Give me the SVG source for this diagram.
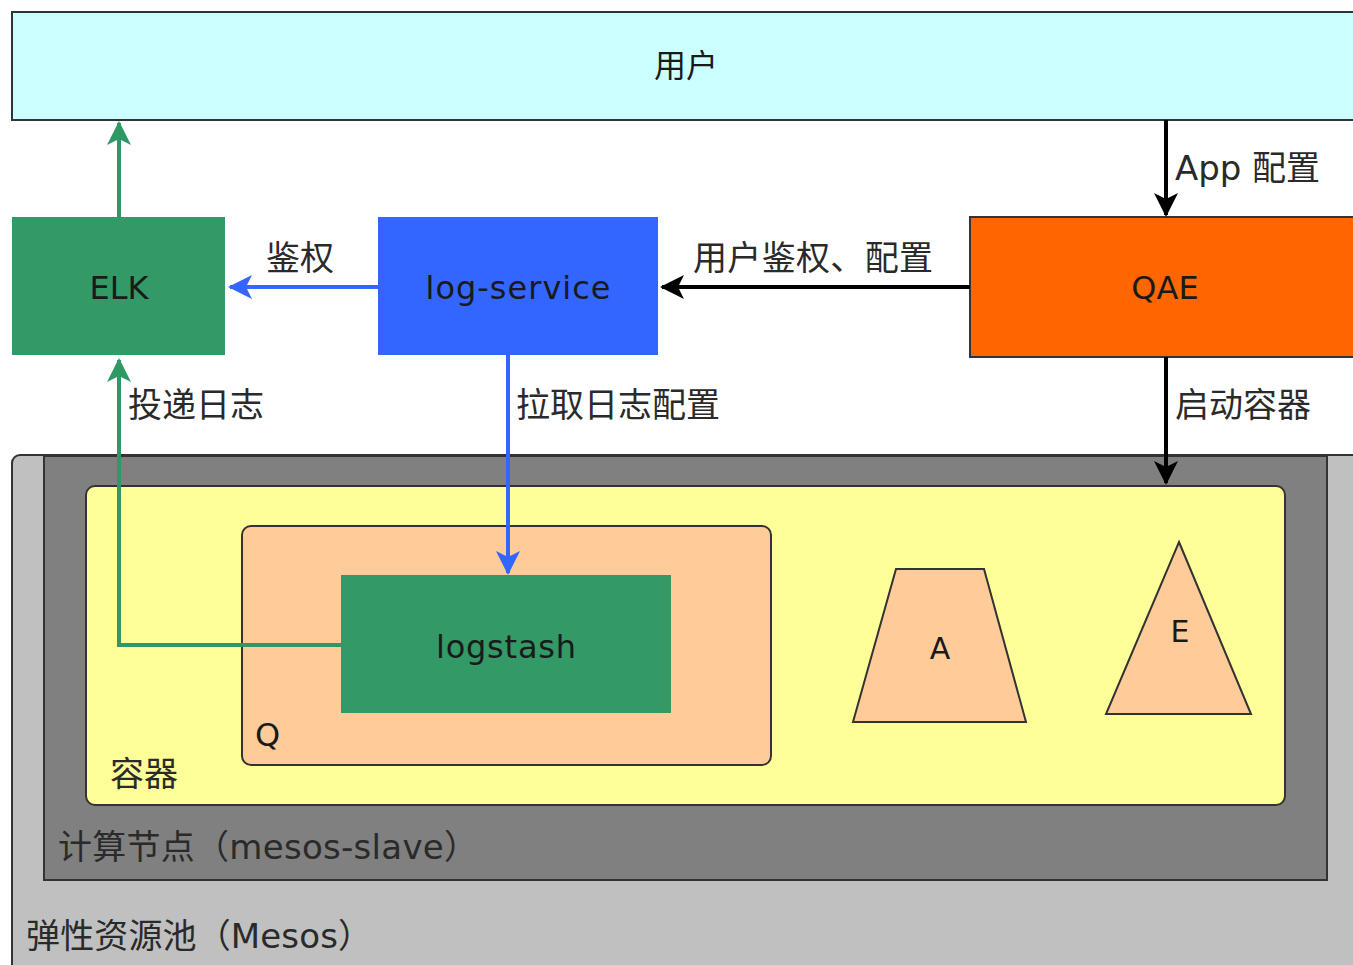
<svg xmlns="http://www.w3.org/2000/svg" width="1353" height="965" viewBox="0 0 1353 965">
<style>
text{font-family:"DejaVu Sans","Noto Sans CJK SC",sans-serif;fill:#1a1a1a}
.lbl{font-size:34px;fill:#2a2a2a}
.nm{font-size:32px;text-anchor:middle}
.box{stroke:#333;stroke-width:2}
.g{stroke:#2f9966;stroke-width:4;fill:none}
.b{stroke:#3366ff;stroke-width:4;fill:none}
.k{stroke:#000;stroke-width:4;fill:none}
</style>
<defs>
<marker id="ag" viewBox="0 0 12 12" refX="11" refY="6" markerWidth="6" markerHeight="6" orient="auto" markerUnits="strokeWidth"><path d="M0,0 L12,6 L0,12 L3,6 Z" fill="#2f9966"/></marker>
<marker id="ab" viewBox="0 0 12 12" refX="11" refY="6" markerWidth="6" markerHeight="6" orient="auto" markerUnits="strokeWidth"><path d="M0,0 L12,6 L0,12 L3,6 Z" fill="#3366ff"/></marker>
<marker id="ak" viewBox="0 0 12 12" refX="11" refY="6" markerWidth="6" markerHeight="6" orient="auto" markerUnits="strokeWidth"><path d="M0,0 L12,6 L0,12 L3,6 Z" fill="#000"/></marker>
</defs>
<rect width="1353" height="965" fill="#fff"/>
<g id="mesos">
<rect class="box" x="12" y="455" width="1360" height="530" rx="8" fill="#c0c0c0"/>
<text x="26" y="948" class="lbl" textLength="346">弹性资源池（Mesos）</text>
</g>
<g id="slave">
<rect class="box" x="44" y="456" width="1283" height="424" fill="#808080"/>
<text x="58" y="859" class="lbl" textLength="420">计算节点（mesos-slave）</text>
</g>
<g id="container">
<rect class="box" x="86" y="486" width="1199" height="319" rx="9" fill="#ffff99"/>
<text x="110" y="786" class="lbl">容器</text>
</g>
<g id="q">
<rect class="box" x="242" y="526" width="529" height="239" rx="9" fill="#ffcc99"/>
<text x="255" y="746" style="font-size:32px">Q</text>
</g>
<g id="logstash">
<rect x="341" y="575" width="330" height="138" fill="#339966"/>
<text x="506" y="658" class="nm" textLength="140">logstash</text>
</g>
<g id="a">
<polygon class="box" points="896,569 984,569 1026,722 853,722" fill="#ffcc99"/>
<text x="940" y="659" class="nm" style="font-size:30px">A</text>
</g>
<g id="e">
<polygon class="box" points="1179,542 1251,714 1106,714" fill="#ffcc99"/>
<text x="1180" y="642" class="nm" style="font-size:30px">E</text>
</g>
<g id="user">
<rect class="box" x="12" y="12" width="1360" height="108" fill="#ccffff"/>
<text x="686" y="77" class="nm">用户</text>
</g>
<g id="elk">
<rect x="12" y="217" width="213" height="138" fill="#339966"/>
<text x="119" y="299" class="nm">ELK</text>
</g>
<g id="logservice">
<rect x="378" y="217" width="280" height="138" fill="#3366ff"/>
<text x="518" y="299" class="nm" textLength="185">log-service</text>
</g>
<g id="qae">
<rect class="box" x="970" y="217" width="400" height="140" fill="#ff6600"/>
<text x="1165" y="299" class="nm">QAE</text>
</g>
<g id="connectors">
<line class="g" x1="119" y1="217" x2="119" y2="123" marker-end="url(#ag)"/>
<path class="g" d="M341,645 H119 V360" marker-end="url(#ag)"/>
<line class="b" x1="378" y1="287" x2="230" y2="287" marker-end="url(#ab)"/>
<line class="b" x1="508" y1="355" x2="508" y2="573" marker-end="url(#ab)"/>
<line class="k" x1="970" y1="287" x2="662" y2="287" marker-end="url(#ak)"/>
<line class="k" x1="1166" y1="120" x2="1166" y2="215" marker-end="url(#ak)"/>
<line class="k" x1="1166" y1="357" x2="1166" y2="483" marker-end="url(#ak)"/>
<text x="266" y="270" class="lbl">鉴权</text>
<text x="693" y="270" class="lbl" textLength="240">用户鉴权、配置</text>
<text x="1175" y="180" class="lbl" textLength="145">App 配置</text>
<text x="1175" y="417" class="lbl">启动容器</text>
<text x="516" y="417" class="lbl">拉取日志配置</text>
<text x="128" y="417" class="lbl">投递日志</text>
</g>
</svg>
